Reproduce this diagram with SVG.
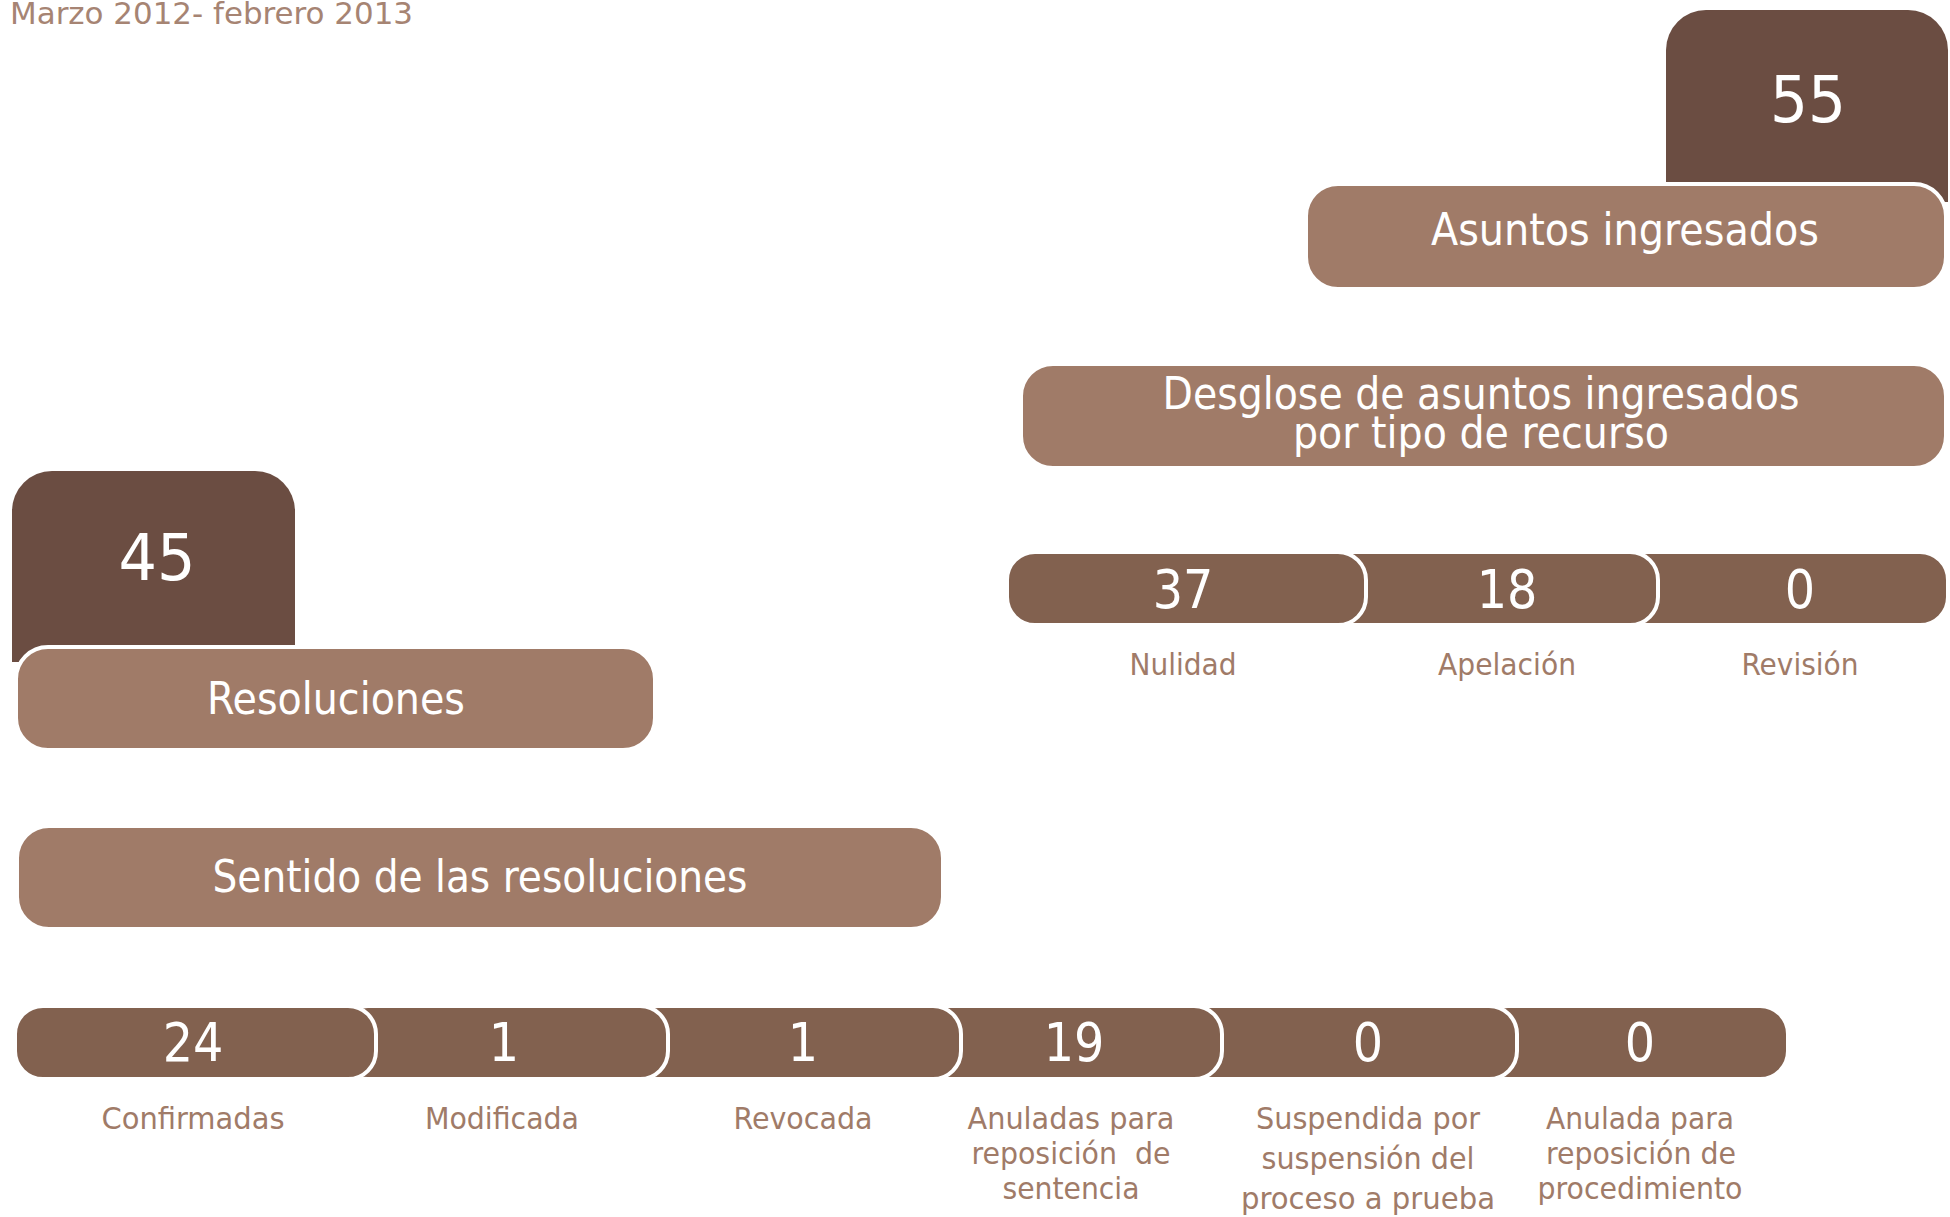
<svg xmlns="http://www.w3.org/2000/svg" width="1950" height="1217" viewBox="0 0 1950 1217">
<style>
text{font-family:"Liberation Sans Narrow","DejaVu Sans Condensed","Liberation Sans",sans-serif;}
.dark{fill:#6b4d42;}
.light{fill:#a07b68;stroke:#ffffff;stroke-width:4;}
.seg{fill:#82614f;stroke:#ffffff;stroke-width:4;}
.big{fill:#ffffff;font-size:64px;text-anchor:middle;}
.head{fill:#ffffff;font-size:44px;text-anchor:middle;}
.num{fill:#ffffff;font-size:53px;text-anchor:middle;}
.lab{fill:#a07b68;font-size:31px;text-anchor:middle;}
.title{fill:#a68473;font-size:30px;}
</style>
<text class="title" x="10" y="24" textLength="403" lengthAdjust="spacingAndGlyphs">Marzo 2012- febrero 2013</text>

<g id="total-ingresados">
<path class="dark" d="M1666,202 V50 A40,40 0 0 1 1706,10 H1908 A40,40 0 0 1 1948,50 V202 Z"/>
<text class="big" x="1808" y="122" textLength="76" lengthAdjust="spacingAndGlyphs">55</text>
</g>
<g id="asuntos-ingresados">
<rect class="light" x="1306" y="184" width="640" height="105" rx="32"/>
<text class="head" x="1625" y="245" textLength="388" lengthAdjust="spacingAndGlyphs">Asuntos ingresados</text>
</g>
<g id="desglose">
<rect class="light" x="1021" y="364" width="925" height="104" rx="32"/>
<text class="head" x="1481" y="409" textLength="637" lengthAdjust="spacingAndGlyphs">Desglose de asuntos ingresados</text>
<text class="head" x="1481" y="448" textLength="376" lengthAdjust="spacingAndGlyphs">por tipo de recurso</text>
</g>

<g id="revision">
<rect class="seg" x="1620" y="552" width="328" height="73" rx="28"/>
<text class="num" x="1800" y="608">0</text>
<text class="lab" x="1800" y="675" textLength="117" lengthAdjust="spacingAndGlyphs">Revisión</text>
</g>
<g id="apelacion">
<rect class="seg" x="1320" y="552" width="338" height="73" rx="28"/>
<text class="num" x="1507" y="608">18</text>
<text class="lab" x="1507" y="675" textLength="138" lengthAdjust="spacingAndGlyphs">Apelación</text>
</g>
<g id="nulidad">
<rect class="seg" x="1007" y="552" width="359" height="73" rx="28"/>
<text class="num" x="1183" y="608">37</text>
<text class="lab" x="1183" y="675" textLength="107" lengthAdjust="spacingAndGlyphs">Nulidad</text>
</g>

<g id="total-resoluciones">
<path class="dark" d="M12,662 V511 A40,40 0 0 1 52,471 H255 A40,40 0 0 1 295,511 V662 Z"/>
<text class="big" x="157" y="580" textLength="77" lengthAdjust="spacingAndGlyphs">45</text>
</g>
<g id="resoluciones">
<rect class="light" x="16" y="647" width="639" height="103" rx="32"/>
<text class="head" x="336" y="714" textLength="258" lengthAdjust="spacingAndGlyphs">Resoluciones</text>
</g>
<g id="sentido">
<rect class="light" x="17" y="826" width="926" height="103" rx="32"/>
<text class="head" x="480" y="892" textLength="535" lengthAdjust="spacingAndGlyphs">Sentido de las resoluciones</text>
</g>

<g id="anulada-procedimiento">
<rect class="seg" x="1480" y="1006" width="308" height="73" rx="28"/>
<text class="num" x="1640" y="1061">0</text>
<text class="lab" x="1640" y="1129" textLength="188" lengthAdjust="spacingAndGlyphs">Anulada para</text>
<text class="lab" x="1641" y="1164" textLength="190" lengthAdjust="spacingAndGlyphs">reposición de</text>
<text class="lab" x="1640" y="1199" textLength="205" lengthAdjust="spacingAndGlyphs">procedimiento</text>
</g>
<g id="suspendida">
<rect class="seg" x="1180" y="1006" width="337" height="73" rx="28"/>
<text class="num" x="1368" y="1061">0</text>
<text class="lab" x="1368" y="1129" textLength="224" lengthAdjust="spacingAndGlyphs">Suspendida por</text>
<text class="lab" x="1368" y="1169" textLength="213" lengthAdjust="spacingAndGlyphs">suspensión del</text>
<text class="lab" x="1368" y="1209" textLength="254" lengthAdjust="spacingAndGlyphs">proceso a prueba</text>
</g>
<g id="anuladas-sentencia">
<rect class="seg" x="920" y="1006" width="302" height="73" rx="28"/>
<text class="num" x="1074" y="1061">19</text>
<text class="lab" x="1071" y="1129" textLength="207" lengthAdjust="spacingAndGlyphs">Anuladas para</text>
<text class="lab" x="1071" y="1164" textLength="199" lengthAdjust="spacingAndGlyphs" xml:space="preserve">reposición  de</text>
<text class="lab" x="1071" y="1199" textLength="137" lengthAdjust="spacingAndGlyphs">sentencia</text>
</g>
<g id="revocada">
<rect class="seg" x="630" y="1006" width="331" height="73" rx="28"/>
<text class="num" x="803" y="1061">1</text>
<text class="lab" x="803" y="1129" textLength="139" lengthAdjust="spacingAndGlyphs">Revocada</text>
</g>
<g id="modificada">
<rect class="seg" x="340" y="1006" width="328" height="73" rx="28"/>
<text class="num" x="504" y="1061">1</text>
<text class="lab" x="502" y="1129" textLength="154" lengthAdjust="spacingAndGlyphs">Modificada</text>
</g>
<g id="confirmadas">
<rect class="seg" x="15" y="1006" width="361" height="73" rx="28"/>
<text class="num" x="193" y="1061">24</text>
<text class="lab" x="193" y="1129" textLength="183" lengthAdjust="spacingAndGlyphs">Confirmadas</text>
</g>
<g id="connectors"/>
</svg>
